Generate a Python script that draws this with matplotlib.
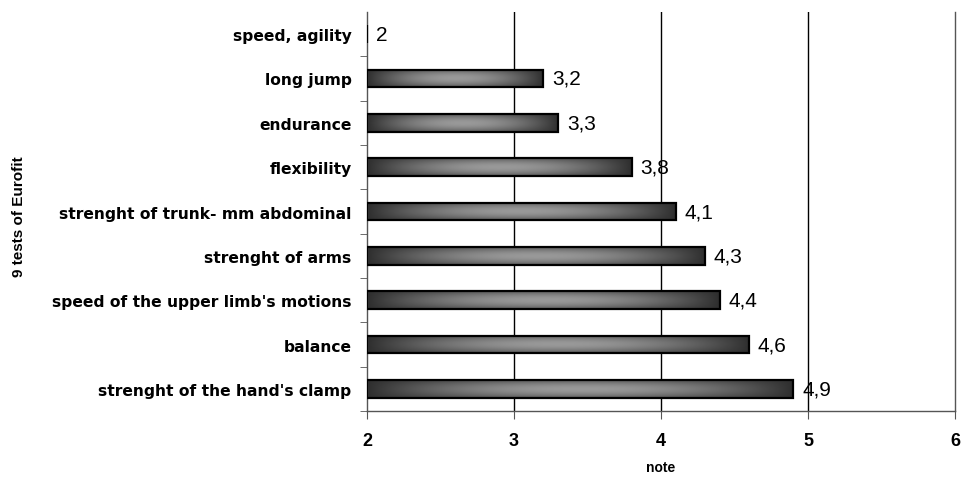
import numpy as np
import matplotlib
matplotlib.use("Agg")
import matplotlib.pyplot as plt
from matplotlib.colors import LinearSegmentedColormap

tests = [
    "speed, agility",
    "long jump",
    "endurance",
    "flexibility",
    "strenght of trunk- mm abdominal",
    "strenght of arms",
    "speed of the upper limb's motions",
    "balance",
    "strenght of the hand's clamp",
]
notes = [2, 3.2, 3.3, 3.8, 4.1, 4.3, 4.4, 4.6, 4.9]
x_ticks = [2, 3, 4, 5, 6]

fig = plt.figure(figsize=(9.65, 4.85), dpi=100)
ax = fig.add_axes([0.3803, 0.1505, 0.6093, 0.8227])

y = np.arange(len(tests))[::-1]
base = 2
widths = [v - base for v in notes]
bars = ax.barh(y, widths, left=base, height=0.4, facecolor="none",
               edgecolor="black", linewidth=1.6, zorder=3)

# shaded fill: dark at the ends and edges, light through the middle
cmap = LinearSegmentedColormap.from_list("shade", ["#2e2e2e", "#999999"])
gx = np.linspace(0, 1, 200)
gy = np.linspace(0, 1, 40)
fx = np.sin(np.pi * gx) ** 0.9
fy = 0.45 + 0.55 * np.sin(np.pi * gy)
shade = np.outer(fy, fx)
for rect in bars:
    w = rect.get_width()
    if w <= 0:
        continue
    x0, y0, h = rect.get_x(), rect.get_y(), rect.get_height()
    im = ax.imshow(shade, cmap=cmap, vmin=0, vmax=1, aspect="auto",
                   extent=(x0, x0 + w, y0, y0 + h), origin="lower",
                   zorder=2, interpolation="bilinear")
    im.set_clip_path(rect)

for yi, v in zip(y, notes):
    ax.text(v + 0.06, yi, f"{v:g}".replace(".", ","), va="center", ha="left",
            fontsize=15, family="Liberation Sans", zorder=4)

ax.set_xlim(2, 6)
ax.set_ylim(-0.5, len(tests) - 0.5)
ax.set_xticks(x_ticks)
ax.set_xticklabels([str(t) for t in x_ticks], fontsize=13, fontweight="bold",
                   family="Liberation Sans")
ax.set_yticks(y)
ax.set_yticklabels(tests, fontsize=11.2, fontweight="bold", family="DejaVu Sans")
ax.set_yticks(np.arange(-0.5, len(tests) - 0.5, 1), minor=True)
ax.tick_params(axis="y", which="major", length=0, pad=11)
ax.tick_params(axis="y", which="minor", length=5, color="#555555")
ax.tick_params(axis="x", length=6, color="#555555", pad=9)

# vertical reference lines at each note
for xv in x_ticks[1:-1]:
    ax.axvline(xv, color="black", linewidth=1, zorder=1)
ax.axvline(x_ticks[-1], color="#555555", linewidth=1, zorder=1, clip_on=False)

for s in ("top", "right"):
    ax.spines[s].set_visible(False)
for s in ("left", "bottom"):
    ax.spines[s].set_color("#555555")
    ax.spines[s].set_linewidth(1)

ax.set_xlabel("note", fontsize=10, fontweight="bold", family="Liberation Sans",
              labelpad=8)
fig.text(0.02, 0.553, "9 tests of Eurofit", rotation=90, ha="center", va="center",
         fontsize=11, fontweight="bold", family="Liberation Sans")

fig.savefig("out.png", dpi=100)
